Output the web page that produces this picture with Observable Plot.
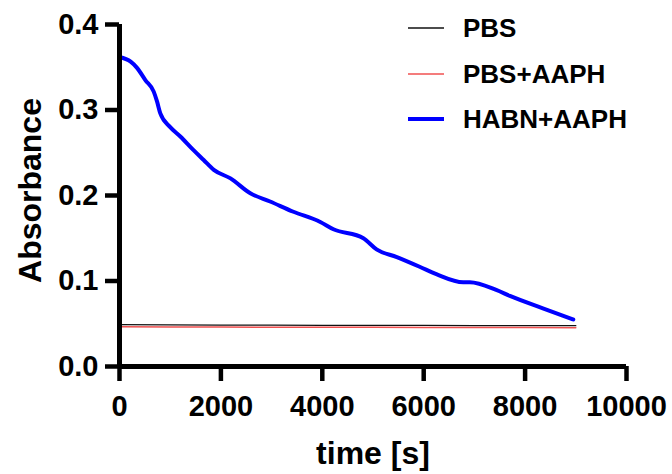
<!DOCTYPE html>
<html>
<head>
<meta charset="utf-8">
<script src="https://cdn.jsdelivr.net/npm/d3@7"></script>
<script src="https://cdn.jsdelivr.net/npm/@observablehq/plot@0.6"></script>
<style>
  html, body { margin: 0; padding: 0; background: #fff; }
  #wrap { position: relative; width: 672px; height: 474px; font-family: "Liberation Sans", Arial, sans-serif; font-weight: bold; }
  #legend { position: absolute; left: 408px; top: 0; }
  .item { position: absolute; left: 0; white-space: nowrap; font-size: 26px; line-height: 1; }
  .item svg { position: absolute; left: 0; top: -4px; }
  .item span { position: absolute; left: 55px; top: -13px; }
</style>
</head>
<body>
<div id="wrap"></div>
<script>
const xLabel = "time [s]";
const yLabel = "Absorbance";
const xTicks = [0, 2000, 4000, 6000, 8000, 10000];
const yTicks = [0.0, 0.1, 0.2, 0.3, 0.4];

const seriesNames = ["PBS", "PBS+AAPH", "HABN+AAPH"];
const seriesColors = ["#111111", "#f05050", "#0000ff"];
const seriesWidths = [1.3, 1.5, 4];

const pbsTime = [0, 1000, 2000, 3000, 4000, 5000, 6000, 7000, 8000, 9000];
const pbsAbs = [0.0490, 0.0486, 0.0484, 0.0483, 0.0482, 0.0481, 0.0480, 0.0479, 0.0478, 0.0477];

const aaphTime = [0, 1000, 2000, 3000, 4000, 5000, 6000, 7000, 8000, 9000];
const aaphAbs = [0.0465, 0.0463, 0.0461, 0.0460, 0.0459, 0.0458, 0.0457, 0.0456, 0.0455, 0.0454];

const habnTime = [0, 220, 350, 510, 675, 740, 805, 1000, 1200, 1460, 1660, 1860, 2190, 2580, 2970, 3430, 3960, 4220, 4810, 5070, 5470, 5920, 6250, 6780, 6910, 7430, 7700, 8350, 8950];
const habnAbs = [0.362, 0.3565, 0.349, 0.335, 0.3215, 0.310, 0.296, 0.280, 0.269, 0.253, 0.2415, 0.230, 0.220, 0.2026, 0.193, 0.181, 0.169, 0.1605, 0.150, 0.137, 0.128, 0.1167, 0.108, 0.0985, 0.0985, 0.0895, 0.0825, 0.068, 0.055];

const toRows = (ts, vs) => ts.map((t, i) => ({t, v: vs[i]}));
const rowsPBS = toRows(pbsTime, pbsAbs);
const rowsAAPH = toRows(aaphTime, aaphAbs);
const rowsHABN = toRows(habnTime, habnAbs);

const font = "'Liberation Sans', Arial, sans-serif";

const chart = Plot.plot({
  width: 672,
  height: 474,
  marginLeft: 119,
  marginRight: 46,
  marginTop: 24,
  marginBottom: 108,
  style: { fontFamily: font, fontWeight: "bold", fontSize: "29px", color: "#000", background: "#fff" },
  x: { domain: [0, 10000] },
  y: { domain: [0, 0.4] },
  marks: [
    Plot.line(rowsPBS, { x: "t", y: "v", stroke: seriesColors[0], strokeWidth: seriesWidths[0] }),
    Plot.line(rowsAAPH, { x: "t", y: "v", stroke: seriesColors[1], strokeWidth: seriesWidths[1] }),
    Plot.line(rowsHABN, { x: "t", y: "v", stroke: seriesColors[2], strokeWidth: seriesWidths[2], strokeLinejoin: "round", curve: "monotone-x" }),
    Plot.ruleX([0], { stroke: "#000", strokeWidth: 5 }),
    Plot.ruleY([0], { stroke: "#000", strokeWidth: 5 }),
    Plot.axisX({ ticks: xTicks, tickSize: 15, tickPadding: 14, strokeWidth: 4.5, stroke: "#000", fill: "#000", fontSize: 29, fontWeight: "bold", label: null, tickFormat: d => String(d) }),
    Plot.axisY({ ticks: yTicks, tickSize: 14, tickPadding: 7, strokeWidth: 4.5, stroke: "#000", fill: "#000", fontSize: 29, fontWeight: "bold", label: null, tickFormat: d3.format(".1f") }),
    Plot.text([xLabel], { frameAnchor: "bottom", dy: 97, fontSize: 32, fontWeight: "bold", fill: "#000" }),
    Plot.text([yLabel], { frameAnchor: "left", textAnchor: "middle", rotate: -90, dx: -89, dy: -5, fontSize: 32, fontWeight: "bold", fill: "#000" })
  ]
});

const wrap = document.getElementById("wrap");
wrap.appendChild(chart);

const legend = document.createElement("div");
legend.id = "legend";
const rowY = [28, 74, 119];
seriesNames.forEach((name, i) => {
  const item = document.createElement("div");
  item.className = "item";
  item.style.top = rowY[i] + "px";
  item.innerHTML = `<svg width="36" height="8"><line x1="0" x2="36" y1="4" y2="4" stroke="${seriesColors[i]}" stroke-width="${seriesWidths[i]}"/></svg><span>${name}</span>`;
  legend.appendChild(item);
});
wrap.appendChild(legend);
</script>
</body>
</html>
